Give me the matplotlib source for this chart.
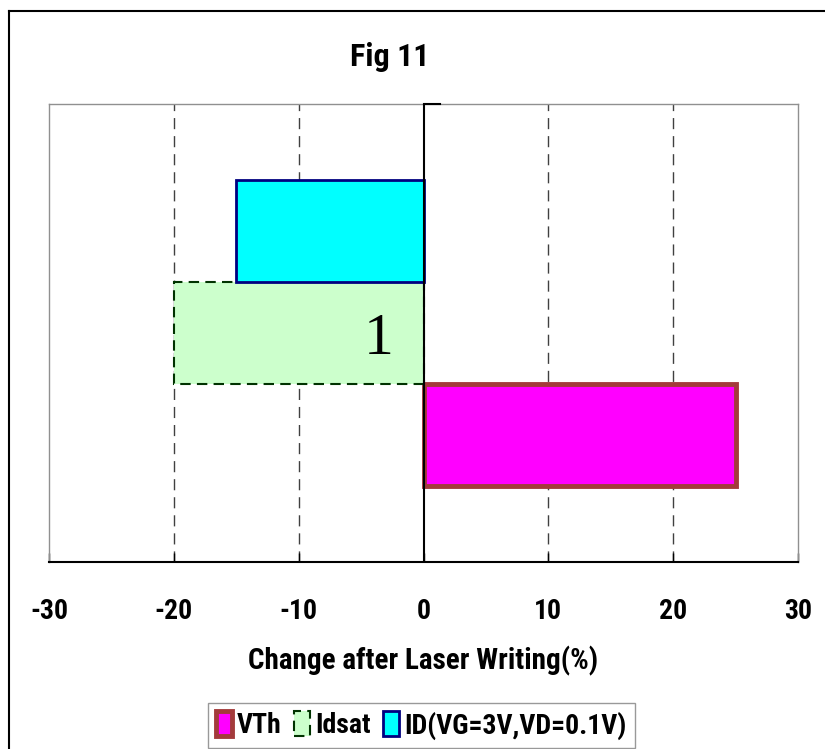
import matplotlib.pyplot as plt
from matplotlib.lines import Line2D

plt.rcParams['font.family'] = ['Roboto Condensed', 'DejaVu Sans']
plt.rcParams['font.weight'] = 'bold'

# one category, three parameters (percent change)
series = ["VTh", "Idsat", "ID(VG=3V,VD=0.1V)"]
changes = [25.0, -20.0, -15.0]
category = "1"
xticks = [-30, -20, -10, 0, 10, 20, 30]

W, H = 825, 749
fig = plt.figure(figsize=(W / 100, H / 100), dpi=100)

# outer chart frame (runs off the right and bottom edges)
fig.add_artist(Line2D([9 / W, 9 / W], [1 - 11 / H, -0.05], color="black", lw=1.5))
fig.add_artist(Line2D([9 / W, 1.05], [1 - 11 / H, 1 - 11 / H], color="black", lw=1.5))

ax = fig.add_axes([49 / W, 1 - 562 / H, 749 / W, 458 / H])

w = 0.222
centers = [0.5 - w, 0.5, 0.5 + w]
ax.barh(centers[0], changes[0], height=w, color="#FF00FF",
        edgecolor="#A33B3B", lw=3.5, label=series[0], zorder=3)
ax.barh(centers[1], changes[1], height=w, color="#CCFFCC",
        edgecolor="#003300", lw=1.5, ls=(0, (5, 3)), label=series[1], zorder=3)
ax.barh(centers[2], changes[2], height=w, color="#00FFFF",
        edgecolor="#000080", lw=2, label=series[2], zorder=3)

ax.set_xlim(-30, 30)
ax.set_ylim(0, 1)
ax.set_xticks(xticks)
ax.set_xticklabels([str(t) for t in xticks])
ax.set_yticks([])

for x in xticks[1:-1]:
    if x != 0:
        ax.axvline(x, color="#404040", lw=1, ls=(0, (8, 5)), zorder=1)
ax.axvline(0, color="black", lw=1.5, zorder=4)
ax.plot([0, 1.3], [1, 1], color="black", lw=1.5, zorder=4, clip_on=False)

for s in ["top", "right", "left"]:
    ax.spines[s].set_color("#909090")
    ax.spines[s].set_linewidth(1)
ax.spines["bottom"].set_color("black")
ax.spines["bottom"].set_linewidth(1.5)

ax.tick_params(axis="x", direction="in", length=6.5, width=1, pad=26,
               labelsize=20)
ax.set_xlabel("Change after Laser Writing(%)", fontsize=21,
              fontweight="bold", labelpad=15)

ax.text(-3.6, 0.485, category, family="Liberation Serif", fontweight="normal",
        fontsize=43, ha="center", va="center", zorder=5)

fig.text(390 / W, 1 - 57 / H, "Fig 11", fontsize=23, fontweight="bold",
         ha="center", va="center")

leg = fig.legend(loc="upper left", bbox_to_anchor=(208 / W, 1 - 703 / H),
                 ncol=3, frameon=True, fancybox=False,
                 prop={"weight": "bold", "size": 20},
                 handlelength=0.55, handleheight=1.0, handletextpad=0.2,
                 columnspacing=0.45, borderpad=0.3, borderaxespad=0)
leg.get_frame().set_edgecolor("#808080")
leg.get_frame().set_linewidth(1)

fig.savefig("out.png", dpi=100)
